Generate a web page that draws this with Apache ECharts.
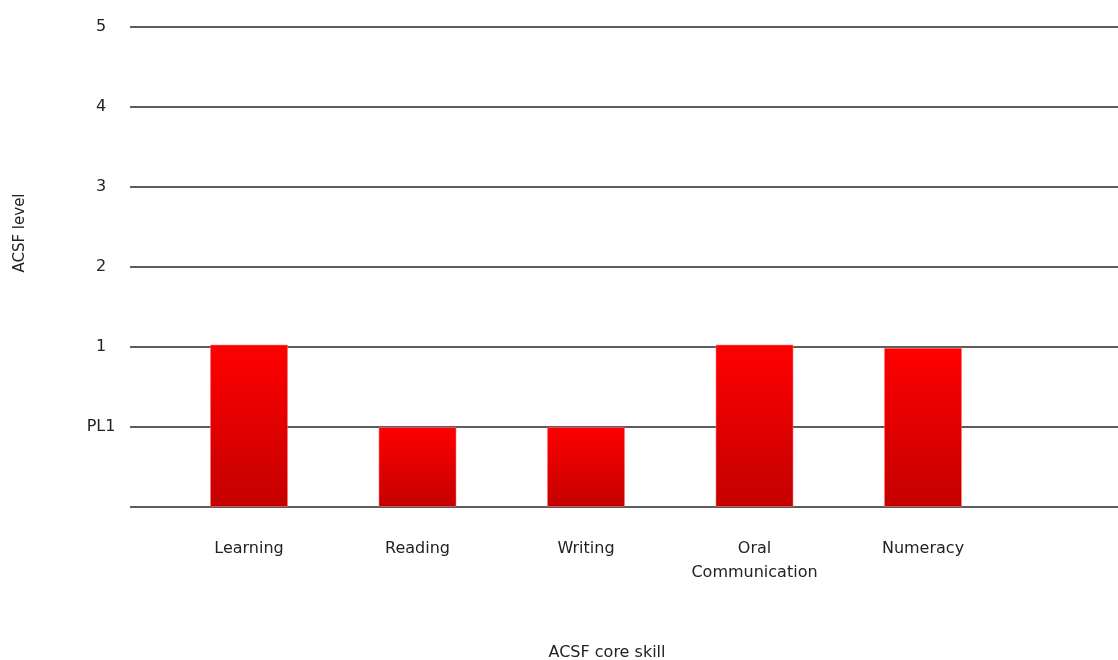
<!DOCTYPE html>
<html>
<head>
<meta charset="utf-8">
<title>ACSF core skills</title>
<script src="https://cdn.jsdelivr.net/npm/echarts@6/dist/echarts.min.js"></script>
<style>
  html, body { margin: 0; padding: 0; background: #fff; }
  #chart { width: 1118px; height: 660px; }
</style>
</head>
<body>
<div id="chart"></div>
<script>
// Core skills and their assessed level (0 = none, 1 = PL1, 2 = level 1, ...)
const skills = ['Learning', 'Reading', 'Writing', 'Oral\nCommunication', 'Numeracy'];
const levels = [2.03, 1.0, 1.0, 2.03, 1.99];
// Text shown for each step of the level scale
const levelTicks = ['', 'PL1', '1', '2', '3', '4', '5'];

const FONT = 'DejaVu Sans';
const TEXT = '#222';

const chart = echarts.init(document.getElementById('chart'), null, { renderer: 'canvas' });

const yCommon = {
  type: 'value',
  min: 0,
  max: levelTicks.length - 1,
  interval: 1
};

chart.setOption({
  animation: false,
  backgroundColor: '#fff',
  grid: [
    // full-width grid carrying the level lines and labels
    { left: 130, right: 0, top: 27, bottom: 153 },
    // grid holding the bars
    { left: 164.75, width: 842.5, top: 27, bottom: 153 }
  ],
  xAxis: [
    { type: 'value', gridIndex: 0, show: false, min: 0, max: 1 },
    {
      type: 'category',
      gridIndex: 1,
      data: skills,
      axisLine: { show: false },
      axisTick: { show: false },
      splitLine: { show: false },
      axisLabel: {
        interval: 0,
        margin: 30,
        color: TEXT,
        fontFamily: FONT,
        fontSize: 16,
        lineHeight: 24
      }
    }
  ],
  yAxis: [
    Object.assign({}, yCommon, {
      gridIndex: 0,
      axisLine: { show: false },
      axisTick: { show: false },
      splitLine: { show: true, lineStyle: { color: '#262626', width: 1.5 } },
      axisLabel: {
        margin: 29,
        align: 'center',
        color: TEXT,
        fontFamily: FONT,
        fontSize: 16,
        formatter: v => levelTicks[Math.round(v)]
      }
    }),
    Object.assign({}, yCommon, { gridIndex: 1, show: false })
  ],
  series: [{
    type: 'bar',
    xAxisIndex: 1,
    yAxisIndex: 1,
    data: levels,
    barWidth: 78,
    z: 3,
    itemStyle: {
      color: new echarts.graphic.LinearGradient(0, 0, 0, 1, [
        { offset: 0, color: '#ff0000' },
        { offset: 1, color: '#c40000' }
      ]),
      borderColor: 'rgba(255,120,120,0.55)',
      borderWidth: 1
    }
  }],
  graphic: [
    {
      type: 'text',
      x: 20,
      y: 233,
      rotation: Math.PI / 2,
      style: {
        text: 'ACSF level',
        fill: TEXT,
        font: '15px "DejaVu Sans"',
        align: 'center',
        verticalAlign: 'middle'
      }
    },
    {
      type: 'text',
      x: 607,
      y: 653,
      style: {
        text: 'ACSF core skill',
        fill: TEXT,
        font: '16px "DejaVu Sans"',
        align: 'center',
        verticalAlign: 'middle'
      }
    }
  ]
});
</script>
</body>
</html>
